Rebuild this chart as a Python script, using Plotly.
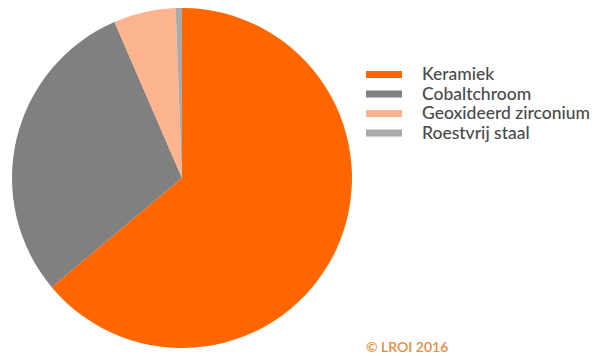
import plotly.graph_objects as go

# Share of bearing-head materials
materials = ["Keramiek", "Cobaltchroom", "Geoxideerd zirconium", "Roestvrij staal"]
shares = [63.9, 29.6, 5.9, 0.6]
colors = ["#FF6600", "#808080", "#FBB48E", "#AAAAAA"]

W, H = 609, 356

fig = go.Figure()
fig.add_trace(go.Pie(
    labels=materials,
    values=shares,
    sort=False,
    direction="clockwise",
    rotation=0,
    textinfo="none",
    hoverinfo="label+percent",
    marker=dict(colors=colors, line=dict(width=0)),
    domain=dict(x=[12 / W, 352 / W], y=[8 / H, 348 / H]),
    showlegend=False,
))

# Legend drawn as swatches plus labels
legend_x0, legend_x1 = 366, 402
text_x = 420
row_y0, row_step = 74.5, 19.5
shapes, annotations = [], []
for i, (name, col) in enumerate(zip(materials, colors)):
    yc = row_y0 + i * row_step
    shapes.append(dict(
        type="rect", xref="paper", yref="paper",
        x0=legend_x0 / W, x1=legend_x1 / W,
        y0=1 - (yc + 3.5) / H, y1=1 - (yc - 3.5) / H,
        fillcolor=col, line=dict(width=0),
    ))
    annotations.append(dict(
        text=name, xref="paper", yref="paper",
        x=text_x / W, y=1 - (yc - 1) / H, xanchor="left", yanchor="middle",
        showarrow=False, font=dict(family="Lato", size=17.5, color="#4A4A4A", weight=500),
    ))

annotations.append(dict(
    text="© LROI 2016", xref="paper", yref="paper",
    x=364 / W, y=1 - 346 / H, xanchor="left", yanchor="middle",
    showarrow=False, font=dict(family="Lato", size=14, color="#EE8A3A", weight=600),
))

fig.update_layout(
    width=W, height=H,
    margin=dict(l=0, r=0, t=0, b=0),
    paper_bgcolor="white",
    plot_bgcolor="white",
    shapes=shapes,
    annotations=annotations,
)

fig.write_html("out.html")
